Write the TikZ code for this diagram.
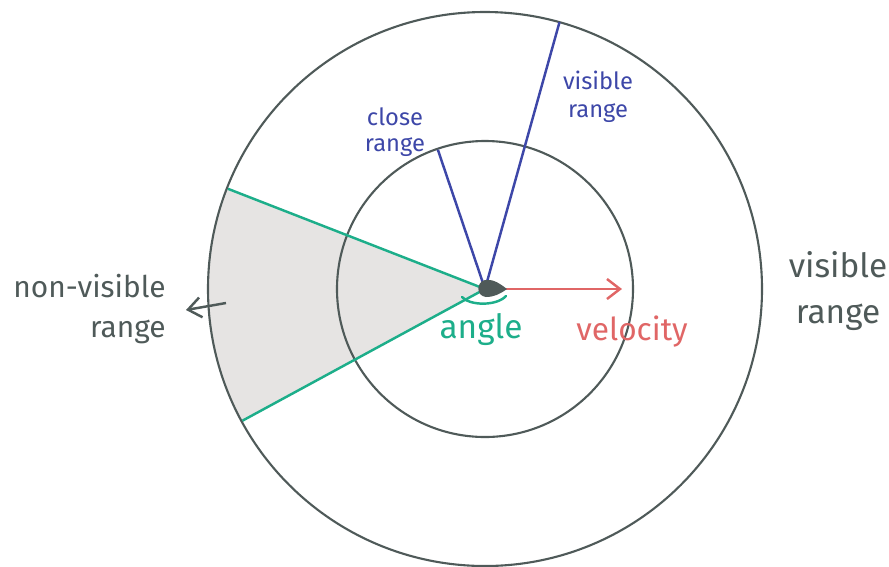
\documentclass[tikz,border=0pt]{standalone}
\usepackage{fontspec}
\setmainfont{Fira Sans}
\usepackage{xcolor}
\usetikzlibrary{arrows.meta, positioning}
\definecolor{ringgray}{HTML}{4F5A59}
\definecolor{rangeblue}{HTML}{3D47A8}
\definecolor{anglegreen}{HTML}{1DAE8A}
\definecolor{velred}{HTML}{E06666}
\definecolor{shadegray}{HTML}{E6E4E3}

\begin{document}
\begin{tikzpicture}[
        x=0.02cm, y=-0.02cm,
        ring/.style={draw=ringgray, line width=1.2pt},
        ray/.style={line width=1.4pt},
        lbl/.style={align=center, inner sep=0pt},
        barb/.style={-{Straight Barb[length=2.6mm, width=4mm]}, line width=1.4pt}
    ]
        \useasboundingbox (0,0) rectangle (889,566);
        \coordinate (c) at (485,289);
        % shaded sector behind everything
        \fill[shadegray] (c) -- ++(-158.7:277) arc[start angle=-158.7, end angle=-208.5, radius=277] -- cycle;
        \draw[ring] (c) circle[radius=277];
        \draw[ring] (c) circle[radius=148];
        \path (c) ++(-158.7:276) coordinate (g1);
        \path (c) ++(-208.5:276) coordinate (g2);
        \path (c) ++(-108.7:147) coordinate (b1);
        \path (c) ++(-74.4:277) coordinate (b2);
        \coordinate (v) at (622,289);
        \draw[ray, anglegreen] (g1) -- (c) -- (g2);
        \draw[ray, rangeblue] (c) -- (b1);
        \draw[ray, rangeblue] (c) -- (b2);
        \draw[barb, velred] (c) -- (v);
        % agent
        \fill[ringgray] (507,289) .. controls (498,282) and (492,279) .. (485,280)
            .. controls (476,282) and (476,296) .. (486,297)
            .. controls (494,297) and (500,294) .. (507,289) -- cycle;
        \coordinate (a1) at (462,297);
        \coordinate (a2) at (506,296);
        \draw[ray, anglegreen, line cap=round] (a1) .. controls (470,306) and (497,306) .. (a2);
        % labels
        \node[lbl, text=rangeblue, font=\fontsize{13.5}{15}\selectfont] (close) at (395,132) {close\\range};
        \node[lbl, text=rangeblue, font=\fontsize{13.5}{16}\selectfont] (vis) at (598,97) {visible\\range};
        \node[lbl, text=ringgray, font=\fontsize{19}{26}\selectfont] (visout) at (838,291) {visible\\range};
        \node[lbl, text=ringgray, font=\fontsize{17}{23}\selectfont, align=right, anchor=east] (nonvis) at (166,309) {non-visible\\range};
        \node[lbl, text=anglegreen, font=\fontsize{19}{22}\selectfont] (ang) at (481,330) {angle};
        \node[lbl, text=velred, font=\fontsize{18}{22}\selectfont] (vel) at (632,332) {velocity};
        \coordinate (n1) at (226,303);
        \coordinate (n2) at (186,310);
        \draw[barb, ringgray] (n1) -- (n2);
    \end{tikzpicture}
\end{document}
